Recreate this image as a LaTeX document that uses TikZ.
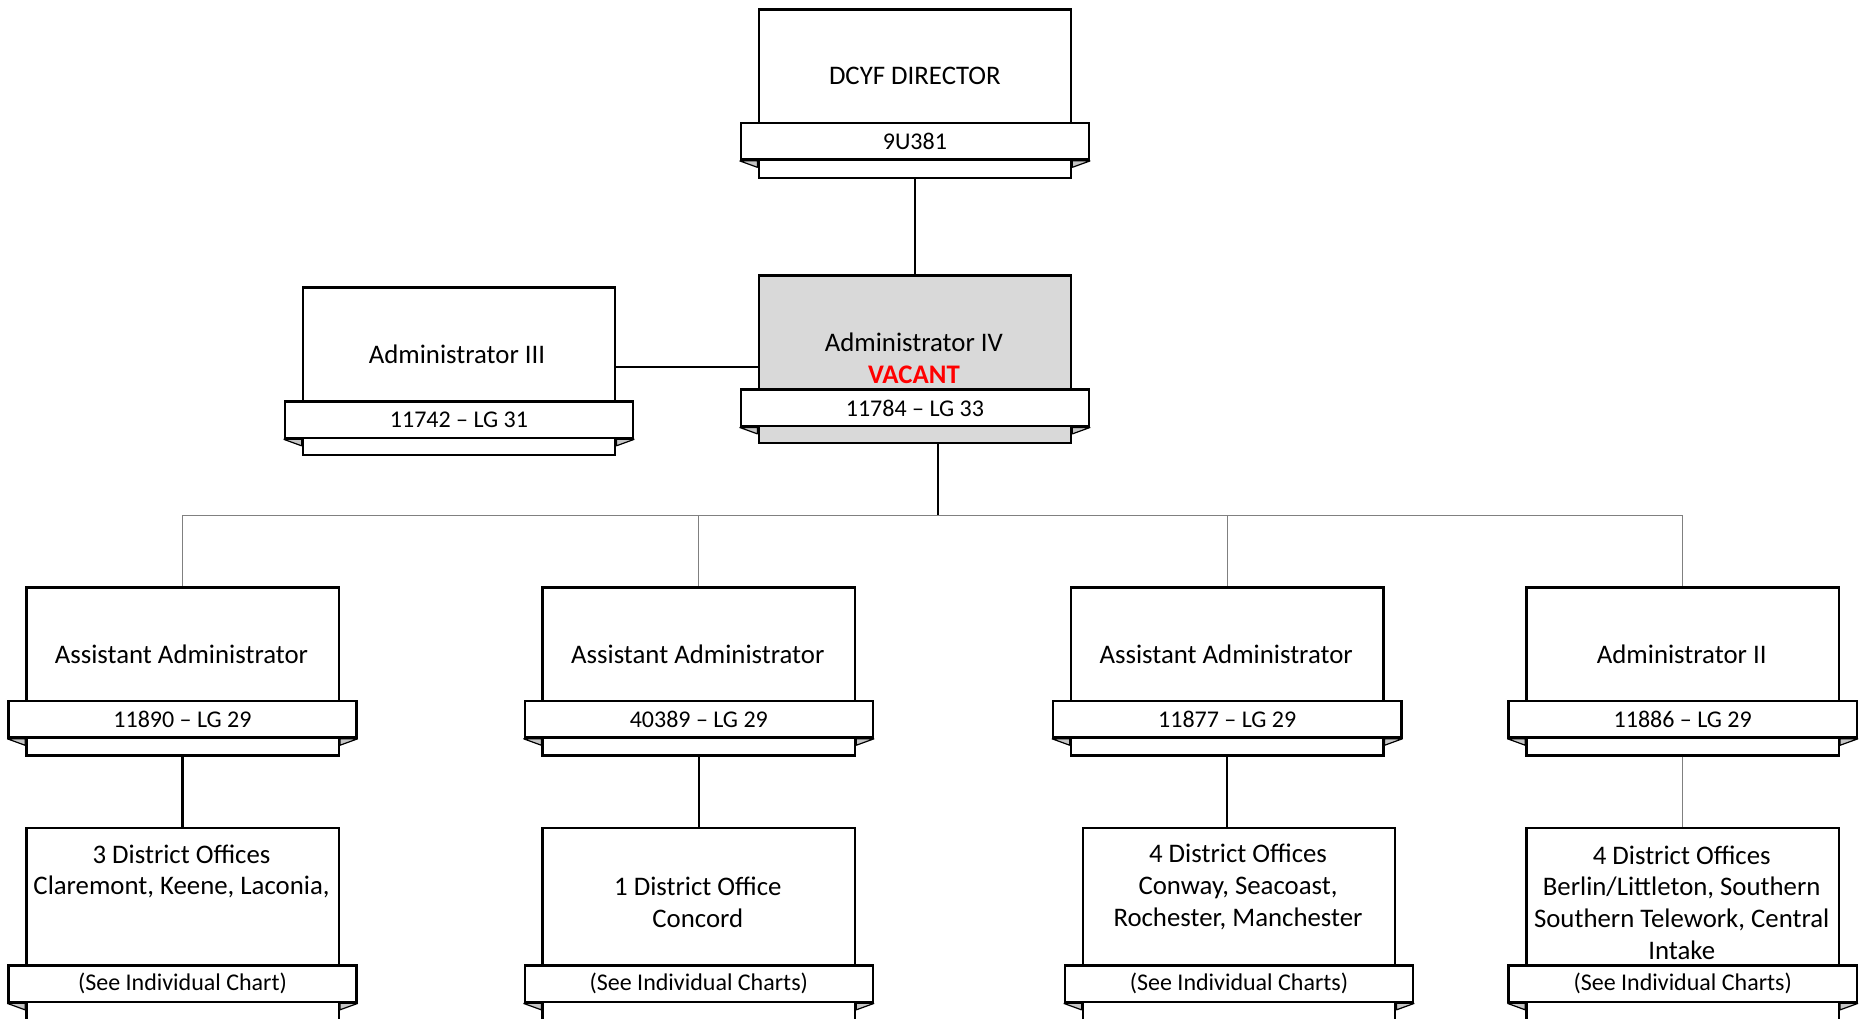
\documentclass[tikz,border=0pt]{standalone}
\usepackage{fontspec}
\setmainfont{Carlito}
\pgfdeclarelayer{bg}
\pgfsetlayers{bg,main}
\begin{document}
\begin{tikzpicture}[x=1pt,y=-1pt,
  box/.style={draw, line width=2.4pt, minimum width=312.4pt, inner sep=0pt},
  banner/.style={draw, fill=white, line width=2.4pt, minimum width=348.2pt, minimum height=36.6pt, inner sep=0pt, font=\fontsize{24}{28}\selectfont},
  ttl/.style={font=\fontsize{26.8}{31.7}\selectfont, align=center, inner sep=0pt},
  fold/.style={draw, fill=gray!45, line width=1.2pt, line join=bevel},
  heavy/.style={line width=2.4pt},
  light/.style={draw=gray, line width=1.3pt}
]
\useasboundingbox (0,0) rectangle (1862,1018);
\clip (0,0) rectangle (1862,1018);
\newcommand{\mkfold}[2]{%
  \draw[fold] (#2.south west) -- (#2.south west -| #1.west) -- ++(0,6.5) -- cycle;
  \draw[fold] (#2.south east) -- (#2.south east -| #1.east) -- ++(0,6.5) -- cycle;}
% #1 name, #2 cx, #3 box cy, #4 box height, #5 banner cy, #6 banner text, #7 fill
\newcommand{\orgunit}[7]{%
  \node[banner] (#1b) at (#2,#5) {#6};
  \begin{pgfonlayer}{bg}
    \node[box, fill=#7, minimum height=#4] (#1) at (#2,#3) {};
    \mkfold{#1}{#1b}
  \end{pgfonlayer}}
% ---------- DCYF Director
\orgunit{dcyf}{914.9}{93.55}{168.3pt}{141.35}{9U381}{white}
\node[ttl] (dcyft) at (914.9,76) {DCYF DIRECTOR};
% ---------- Administrator IV
\orgunit{adm4}{914.9}{359.25}{167.5pt}{407.9}{11784 -- LG 33}{gray!30}
\node[ttl] (adm4t) at (913.9,358) {Administrator IV\\\textcolor{red}{\textbf{VACANT}}};
% ---------- Administrator III
\orgunit{adm3}{459}{371.1}{167.4pt}{419.8}{11742 -- LG 31}{white}
\node[ttl] (adm3t) at (457,354) {Administrator III};
% ---------- row 2
\foreach \n/\x/\t/\c in {aa1/182.5/Assistant Administrator/11890 -- LG 29,
                        aa2/698.8/Assistant Administrator/40389 -- LG 29,
                        aa3/1227.2/Assistant Administrator/11877 -- LG 29,
                        adm2/1682.7/Administrator II/11886 -- LG 29}{
  \orgunit{\n}{\x}{671.5}{168pt}{719.25}{\c}{white}
  \node[ttl] (\n t) at (\x-1,654.3) {\t};
}
% ---------- row 3
\foreach \n/\x/\c in {do1/182.5/(See Individual Chart),
                     do2/698.8/(See Individual Charts),
                     do3/1239/(See Individual Charts),
                     do4/1682.7/(See Individual Charts)}{
  \orgunit{\n}{\x}{933}{210pt}{983.85}{\c}{white}
}
\node[ttl] (do1t) at (181.5,871.5) {3 District Offices\\Claremont, Keene, Laconia,};
\node[ttl] (do2t) at (697.8,902.5) {1 District Office\\Concord};
\node[ttl] (do3t) at (1238,887) {4 District Offices\\Conway, Seacoast,\\Rochester, Manchester};
\node[ttl] (do4t) at (1681.7,902.5) {4 District Offices\\Berlin/Littleton, Southern\\Southern Telework, Central\\Intake};
% ---------- connectors
\coordinate (bus) at (938.1,515.4);
\draw[heavy] (dcyf.south) -- (adm4.north);
\draw[heavy] (adm3.east |- 0,367) -- (adm4.west |- 0,367);
\draw[heavy] (adm4.south -| bus) -- (bus);
\draw[light] (aa1.north |- bus) -- (adm2.north |- bus);
\foreach \n in {aa1,aa2,aa3,adm2}{
  \draw[light] (\n.north |- bus) -- (\n.north);
}
\draw[heavy] (aa1.south) -- (do1.north);
\draw[heavy] (aa2.south) -- (do2.north);
\draw[heavy] (aa3.south) -- (aa3.south |- do3.north);
\draw[light] (adm2.south) -- (do4.north);
\end{tikzpicture}
\end{document}
